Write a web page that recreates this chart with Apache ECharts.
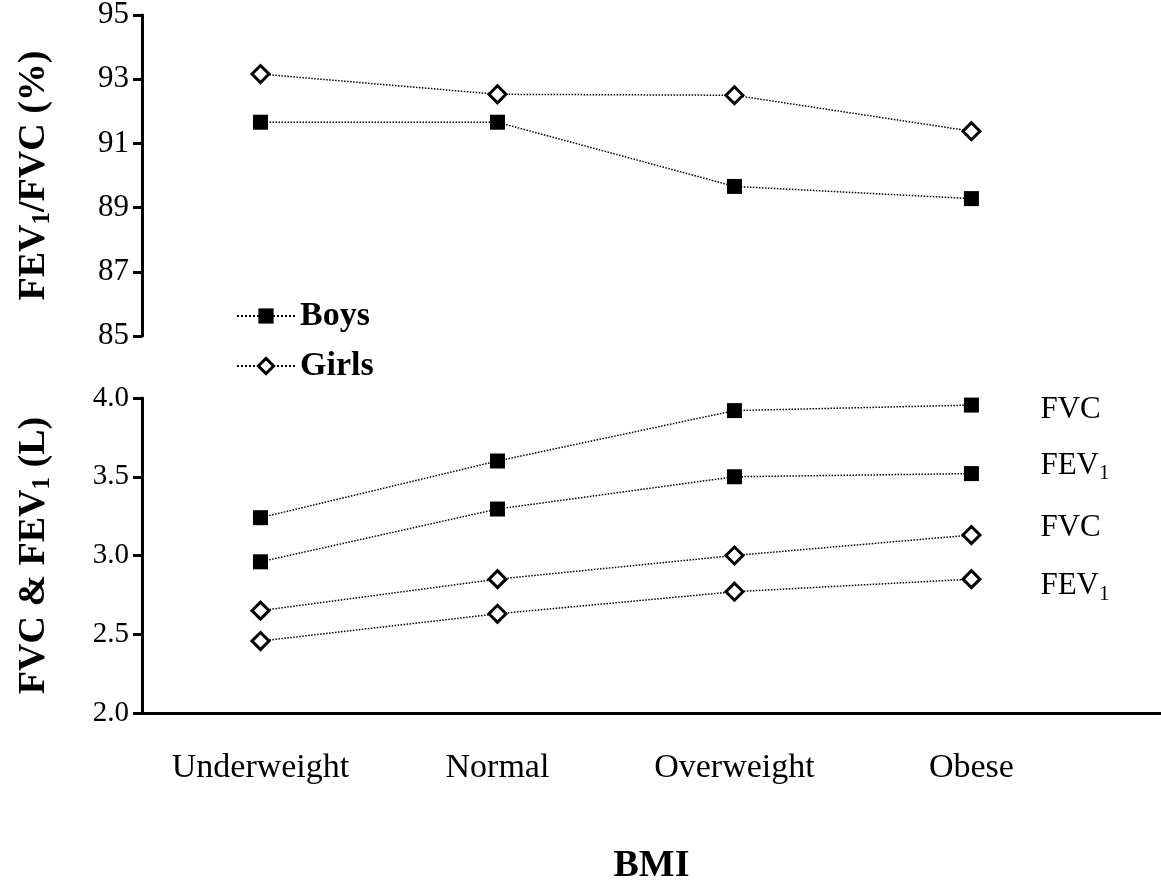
<!DOCTYPE html>
<html>
<head>
<meta charset="utf-8">
<script src="https://cdn.jsdelivr.net/npm/echarts@6/dist/echarts.min.js"></script>
<style>
  html, body { margin: 0; padding: 0; background: #fff; }
  #main { width: 1161px; height: 881px; }
</style>
</head>
<body>
<div id="main"></div>
<script>
var categories = ['Underweight', 'Normal', 'Overweight', 'Obese'];

// FEV1/FVC (%)
var ratioBoys = [91.66, 91.66, 89.66, 89.28];
var ratioGirls = [93.16, 92.53, 92.50, 91.38];

// FVC & FEV1 (L)
var fvcBoys = [3.24, 3.60, 3.92, 3.955];
var fev1Boys = [2.96, 3.295, 3.50, 3.52];
var fvcGirls = [2.65, 2.85, 3.00, 3.13];
var fev1Girls = [2.457, 2.63, 2.77, 2.85];

var ratioTicks = [85, 87, 89, 91, 93, 95];
var volumeTicks = [2.0, 2.5, 3.0, 3.5, 4.0];

var serif = '"Liberation Serif", "DejaVu Serif", serif';

function pairs(arr) {
    return arr.map(function (v, i) { return [i, v]; });
}

function main() {
    var myChart = echarts.init(document.getElementById('main'));

    var boysStyle = {
        symbol: 'rect',
        symbolSize: 15,
        itemStyle: { color: '#000', borderColor: '#000', borderWidth: 0 }
    };
    var girlsStyle = {
        symbol: 'diamond',
        symbolSize: 17,
        itemStyle: { color: '#fff', borderColor: '#000', borderWidth: 3 }
    };
    var line = { color: '#000', width: 1.5, type: 'dotted' };

    function series(name, data, axis, style, label, dy) {
        var s = {
            name: name,
            type: 'line',
            xAxisIndex: axis,
            yAxisIndex: axis,
            data: pairs(data),
            symbol: style.symbol,
            symbolSize: style.symbolSize,
            showAllSymbol: true,
            itemStyle: style.itemStyle,
            lineStyle: line,
            emphasis: { disabled: true },
            z: 3
        };
        if (label) {
            s.endLabel = {
                show: true,
                formatter: label,
                distance: 0,
                offset: [69, dy],
                color: '#000',
                rich: {
                    a: { fontFamily: serif, fontSize: 31, color: '#000' },
                    s: { fontFamily: serif, fontSize: 21, color: '#000', padding: [16, 0, 0, 0] }
                }
            };
        }
        return s;
    }

    var axisLine = { show: true, onZero: false, lineStyle: { color: '#000', width: 3 } };
    var axisTick = { show: true, length: 9, lineStyle: { color: '#000', width: 3 } };
    var titleRich = {
        a: { fontFamily: serif, fontSize: 38, fontWeight: 'bold', color: '#000' },
        s: { fontFamily: serif, fontSize: 25, fontWeight: 'bold', color: '#000', padding: [16, 0, 0, 0] }
    };

    var option = {
        backgroundColor: '#fff',
        animation: false,
        grid: [
            { left: 142, right: 0, top: 15, height: 321, outerBoundsMode: 'none' },
            { left: 142, right: 0, top: 398, height: 315, outerBoundsMode: 'none' }
        ],
        legend: {
            orient: 'vertical',
            left: 231,
            top: 294,
            itemWidth: 58,
            itemHeight: 19,
            itemGap: 16,
            data: [
                { name: 'Boys' },
                { name: 'Girls', itemStyle: { color: '#fff', borderColor: '#000', borderWidth: 3 } }
            ],
            textStyle: { color: '#000', fontFamily: serif, fontSize: 34, fontWeight: 'bold' },
            selectedMode: false
        },
        xAxis: [
            {
                type: 'value', gridIndex: 0, min: -0.5, max: 3.8, show: false
            },
            {
                type: 'value', gridIndex: 1, min: -0.5, max: 3.8,
                axisLine: axisLine,
                axisTick: { show: false },
                splitLine: { show: false },
                axisLabel: {
                    customValues: [0, 1, 2, 3],
                    formatter: function (v) { return categories[Math.round(v)]; },
                    color: '#000', fontFamily: serif, fontSize: 34, margin: 38
                },
                name: 'BMI',
                nameLocation: 'middle',
                nameGap: 134,
                nameTextStyle: { color: '#000', fontFamily: serif, fontSize: 38, fontWeight: 'bold' }
            }
        ],
        yAxis: [
            {
                type: 'value', gridIndex: 0, min: 85, max: 95, interval: 2,
                axisLine: axisLine, axisTick: axisTick, splitLine: { show: false },
                axisLabel: {
                    customValues: ratioTicks,
                    formatter: function (v) { return String(v); },
                    color: '#000', fontFamily: serif, fontSize: 31, margin: 13
                },
                name: '{a|FEV}{s|1}{a|/FVC (%)}',
                nameLocation: 'middle',
                nameRotate: 90,
                nameGap: 87,
                nameTextStyle: { rich: titleRich }
            },
            {
                type: 'value', gridIndex: 1, min: 2, max: 4, interval: 0.5,
                axisLine: axisLine, axisTick: axisTick, splitLine: { show: false },
                axisLabel: {
                    customValues: volumeTicks,
                    formatter: function (v) { return v.toFixed(1); },
                    color: '#000', fontFamily: serif, fontSize: 29, margin: 13
                },
                name: '{a|FVC & FEV}{s|1}{a| (L)}',
                nameLocation: 'middle',
                nameRotate: 90,
                nameGap: 87,
                nameTextStyle: { rich: titleRich }
            }
        ],
        series: [
            series('Boys', ratioBoys, 0, boysStyle),
            series('Girls', ratioGirls, 0, girlsStyle),
            series('Boys FVC', fvcBoys, 1, boysStyle, '{a|FVC}', 5),
            series('Boys FEV1', fev1Boys, 1, boysStyle, '{a|FEV}{s|1}', -8),
            series('Girls FVC', fvcGirls, 1, girlsStyle, '{a|FVC}', -7),
            series('Girls FEV1', fev1Girls, 1, girlsStyle, '{a|FEV}{s|1}', 7)
        ]
    };

    myChart.setOption(option);
}

main();
</script>
</body>
</html>
